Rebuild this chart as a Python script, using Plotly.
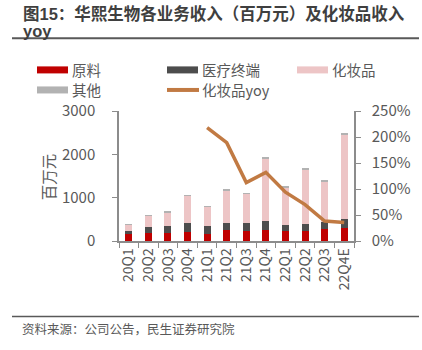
import plotly.graph_objects as go

categories = ["20Q1","20Q2","20Q3","20Q4","21Q1","21Q2","21Q3","21Q4","22Q1","22Q2","22Q3","22Q4E"]
raw_material = [155, 194, 185, 208, 170, 263, 240, 263, 240, 240, 286, 293]
medical = [75, 129, 161, 208, 170, 146, 169, 208, 139, 153, 146, 215]
cosmetics = [140, 264, 317, 632, 445, 762, 676, 1442, 857, 1266, 950, 1952]
others = [8, 8, 8, 10, 10, 15, 15, 25, 25, 25, 20, 25]
cos_yoy = [None, None, None, None, 2.18, 1.89, 1.125, 1.32, 0.94, 0.70, 0.385, 0.355]

W, H = 422, 350
L, R, T, B = 119, 354, 111, 240.7
def px(x):
    return (x - L) / (R - L)
def py(y):
    return (B - y) / (B - T)

FONT = "Noto Sans CJK SC"
GRAY = "#595959"
AX = "#8c8c8c"

fig = go.Figure()
bw = 0.36
fig.add_trace(go.Bar(x=categories, y=raw_material, name="原料", marker_color="#C00000", width=bw, marker_line_width=0))
fig.add_trace(go.Bar(x=categories, y=medical, name="医疗终端", marker_color="#4D4D4D", width=bw, marker_line_width=0))
fig.add_trace(go.Bar(x=categories, y=cosmetics, name="化妆品", marker_color="#EDC5C6", width=bw, marker_line_width=0))
fig.add_trace(go.Bar(x=categories, y=others, name="其他", marker_color="#B2B2B2", width=bw, marker_line_width=0))
fig.add_trace(go.Scatter(x=categories, y=cos_yoy, name="化妆品yoy", mode="lines",
                         line=dict(color="#C17A43", width=3.5), yaxis="y2"))

fig.update_layout(
    width=W, height=H,
    margin=dict(l=L, r=W - R, t=T, b=H - B, autoexpand=False),
    paper_bgcolor="white", plot_bgcolor="white",
    barmode="stack", showlegend=False,
    font=dict(family=FONT, color=GRAY, size=14),
    xaxis=dict(type="category", showline=True, linecolor=AX, linewidth=1.5,
               ticks="outside", tickson="boundaries", ticklen=5, tickcolor=AX,
               tickangle=-90, tickfont=dict(size=14, color=GRAY), showgrid=False),
    yaxis=dict(range=[0, 3000], dtick=1000, showline=True, linecolor=AX, linewidth=1.5,
               ticks="outside", ticklen=5, tickcolor=AX, showgrid=False, zeroline=False,
               tickfont=dict(size=15, color=GRAY), ticklabelstandoff=14),
    yaxis2=dict(range=[0, 2.5], dtick=0.5, tickformat=".0%", overlaying="y", side="right",
                showline=True, linecolor=AX, linewidth=1.5, ticks="outside", ticklen=5,
                tickcolor=AX, showgrid=False, zeroline=False,
                tickfont=dict(size=15, color=GRAY), ticklabelstandoff=8),
)

ann = []
shapes = []
TS = 16.5
TFONT = "Liberation Sans, Noto Sans CJK SC"
# title line 1
ann.append(dict(text="<b>图15：华熙生物各业务收入（百万元）及化妆品收入</b>",
                x=px(21), y=py(2), align="left",
                xref="paper", yref="paper", xanchor="left", yanchor="top", showarrow=False,
                font=dict(size=TS, color="#3f3f3f", family=TFONT)))
# title line 2
ann.append(dict(text="<b>yoy</b>",
                x=px(21), y=py(20.6), align="left",
                xref="paper", yref="paper", xanchor="left", yanchor="top", showarrow=False,
                font=dict(size=TS, color="#3f3f3f", family=TFONT)))
shapes.append(dict(type="line", xref="paper", yref="paper", x0=px(12), x1=px(419), y0=py(38.5), y1=py(38.5),
                   line=dict(color="#595959", width=2)))
# y title
ann.append(dict(text="百万元", x=px(48), y=py(177), xref="paper", yref="paper", textangle=-90,
                xanchor="center", yanchor="middle",
                showarrow=False, font=dict(size=15.5, color=GRAY, family=FONT)))
# legend
leg = [
    (37, 70, "rect", "#C00000", "原料"),
    (167, 70, "rect", "#4D4D4D", "医疗终端"),
    (297, 70, "rect", "#EDC5C6", "化妆品"),
    (37, 90, "rect", "#B2B2B2", "其他"),
    (167, 90, "line", "#C17A43", "化妆品yoy"),
]
for x0, yc, kind, col, name in leg:
    if kind == "rect":
        shapes.append(dict(type="rect", xref="paper", yref="paper", x0=px(x0), x1=px(x0 + 31),
                           y0=py(yc - 3.5), y1=py(yc + 3.5), fillcolor=col, line=dict(width=0)))
    else:
        shapes.append(dict(type="line", xref="paper", yref="paper", x0=px(x0), x1=px(x0 + 32),
                           y0=py(yc), y1=py(yc), line=dict(color=col, width=4)))
    ann.append(dict(text=name, x=px(x0 + 33), y=py(yc), xref="paper", yref="paper",
                    xanchor="left", yanchor="middle", showarrow=False,
                    font=dict(size=14.5, color=GRAY, family=FONT)))
# footer
shapes.append(dict(type="line", xref="paper", yref="paper", x0=px(12), x1=px(419), y0=py(316), y1=py(316),
                   line=dict(color="#595959", width=1.5)))
ann.append(dict(text="资料来源：公司公告，民生证券研究院", x=px(20), y=py(328), xref="paper", yref="paper",
                xanchor="left", yanchor="middle", showarrow=False,
                font=dict(size=12.5, color=GRAY, family=FONT)))

fig.update_layout(annotations=ann, shapes=shapes)
fig.write_html("out.html")
